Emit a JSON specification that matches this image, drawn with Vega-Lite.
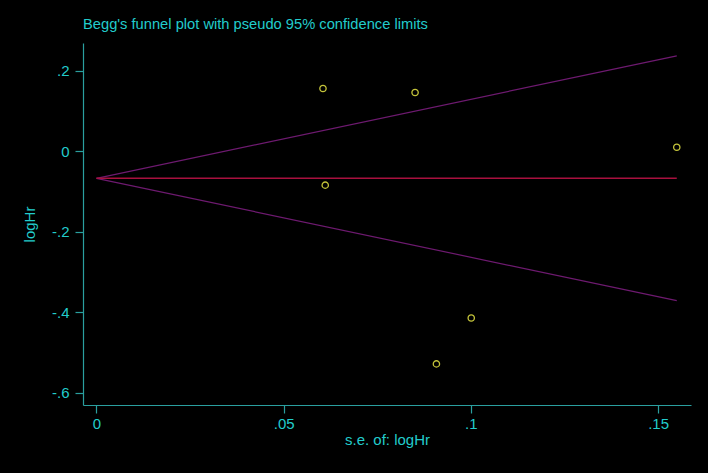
{
  "$schema": "https://vega.github.io/schema/vega-lite/v6.json",
  "width": 608,
  "height": 362,
  "autosize": "none",
  "padding": {"left": 83, "top": 43, "right": 17, "bottom": 68},
  "background": "#000000",
  "config": {
    "view": {"stroke": null},
    "font": "Liberation Sans",
    "axis": {
      "domainColor": "#2a9f9f",
      "tickColor": "#2a9f9f",
      "labelColor": "#22cccc",
      "titleColor": "#22cccc",
      "labelFont": "Liberation Sans",
      "titleFont": "Liberation Sans",
      "labelFontSize": 15,
      "titleFontSize": 15,
      "titleFontWeight": "normal",
      "grid": false,
      "tickSize": 8,
      "domainWidth": 1.2,
      "tickWidth": 1.2
    }
  },
  "title": {
    "text": "Begg's funnel plot with pseudo 95% confidence limits",
    "anchor": "start",
    "frame": "group",
    "color": "#22cccc",
    "font": "Liberation Sans",
    "fontSize": 14.7,
    "fontWeight": "normal",
    "offset": 11
  },
  "datasets": {
    "studies": [
      {"se": 0.0605, "logHr": 0.156},
      {"se": 0.0851, "logHr": 0.146},
      {"se": 0.0611, "logHr": -0.084},
      {"se": 0.155, "logHr": 0.010},
      {"se": 0.1001, "logHr": -0.414},
      {"se": 0.0908, "logHr": -0.528}
    ],
    "funnel": [
      {"se": 0, "upper": -0.067, "lower": -0.067, "pooled": -0.067},
      {"se": 0.155, "upper": 0.237, "lower": -0.371, "pooled": -0.067}
    ]
  },
  "layer": [
    {
      "data": {"name": "funnel"},
      "mark": {"type": "line", "color": "#6e1a70", "strokeWidth": 1.2},
      "encoding": {
        "x": {"field": "se", "type": "quantitative"},
        "y": {"field": "upper", "type": "quantitative"}
      }
    },
    {
      "data": {"name": "funnel"},
      "mark": {"type": "line", "color": "#6e1a70", "strokeWidth": 1.2},
      "encoding": {
        "x": {"field": "se", "type": "quantitative"},
        "y": {"field": "lower", "type": "quantitative"}
      }
    },
    {
      "data": {"name": "funnel"},
      "mark": {"type": "line", "color": "#a8103e", "strokeWidth": 1.5},
      "encoding": {
        "x": {"field": "se", "type": "quantitative"},
        "y": {"field": "pooled", "type": "quantitative"}
      }
    },
    {
      "data": {"name": "studies"},
      "mark": {"type": "point", "shape": "circle", "filled": false, "color": "#c4c43a", "size": 40, "strokeWidth": 1.3, "opacity": 1},
      "encoding": {
        "x": {
          "field": "se",
          "type": "quantitative",
          "scale": {"domain": [-0.0036, 0.1588], "nice": false, "zero": false},
          "axis": {
            "title": "s.e. of: logHr",
            "values": [0, 0.05, 0.1, 0.15],
            "labelPadding": 3,
            "titlePadding": 1,
            "labelExpr": "datum.value == 0 ? '0' : (datum.value < 0 ? '-' : '') + replace(format(abs(datum.value), '.2~f'), '0.', '.')"
          }
        },
        "y": {
          "field": "logHr",
          "type": "quantitative",
          "scale": {"domain": [-0.63, 0.269], "nice": false, "zero": false},
          "axis": {
            "title": "logHr",
            "values": [-0.6, -0.4, -0.2, 0, 0.2],
            "labelPadding": 6,
            "titlePadding": 14,
            "labelExpr": "datum.value == 0 ? '0' : (datum.value < 0 ? '-' : '') + replace(format(abs(datum.value), '.2~f'), '0.', '.')"
          }
        }
      }
    }
  ]
}
